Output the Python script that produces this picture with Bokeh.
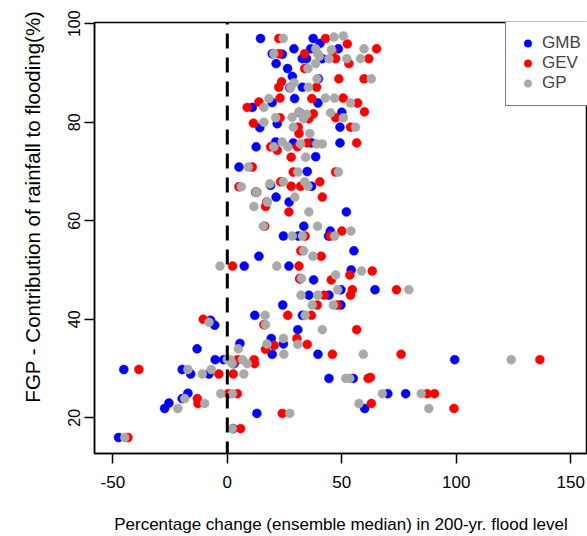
from bokeh.plotting import figure
from bokeh.models import Range1d, FixedTicker, Span, Legend, LegendItem
from bokeh.embed import file_html
from bokeh.resources import INLINE

# ---------------- data ----------------
gmb_x = [14.5, 37.5, 40.5, 19.6, 24.0, 29.1, 36.4, 48.5, 32.7, 34.6, 41.5, 21.3, 26.3, 28.4, 39.8, 27.3, 32.8,
         29.4, 39.6, 19.6, 10.9, 31.5, 50.0, 14.2, 21.8, 49.2, 12.6, 21.1, 28.8, 36.8, 49.2, 38.6, 5.1, 34.9,
         12.4, 18.9, 21.3, 27.0, 36.8, 24.5, 13.8, 7.4, 26.9, 52.0, 33.4, 45.0, 31.0, 44.2, 55.3, 54.1,
         31.7, 37.7, 49.6, 64.5, 35.6, 44.4, 24.2, 49.6, 12.0, 32.8, -7.3, -5.5, 30.8, 19.2, 24.5, 5.5, -13.2,
         19.6, 39.6, -5.3, -1.6, 2.9, 99.3, -45.2, -19.7, -16.0, -8.0, 44.4, 55.0, -17.2, -19.7, -25.5, -27.4,
         70.1, 77.9, 60.0, 12.9, 2.6, -47.5]
gmb_y = [97, 97, 96, 93.9, 93.8, 94.9, 94.9, 94.9, 92.9, 92.9, 92.9, 91.9, 90.9, 89.3, 88.8, 87, 87.1,
         84.8, 83.9, 84, 83, 82, 82, 78.9, 79.7, 79, 75, 76, 75.8, 75.8, 75.8, 73, 70.9, 70,
         65.8, 67.2, 64.8, 63.8, 67, 56.9, 52.8, 50.8, 50.8, 61.8, 58.9, 57.9, 56.9, 56.9, 53.9, 50,
         48.2, 48, 46, 46, 44.9, 44.9, 42.9, 42.9, 40.8, 40.8, 39.8, 38.8, 37.9, 36.1, 35, 35.1, 34,
         32.9, 32.9, 31.8, 31.8, 31, 31.8, 29.8, 29.8, 28.9, 28.9, 28, 28, 25, 23.9, 23, 21.9,
         24.9, 24.9, 21.9, 20.9, 17.8, 16]

gev_x = [22.5, 42.9, 52.4, 22.5, 33.8, 46.0, 65.2, 47.3, 53.1, 61.8, 33.8, 23.7, 22.5, 48.7, 59.7, 39.0,
         23.0, 13.8, 8.7, 36.9, 50.6, 56.9, 37.6, 35.6, 47.3, 59.9, 11.4, 23.0, 31.0, 53.8, 31.3, 18.9,
         21.8, 30.6, 34.9, 56.5, 27.9, 10.9, 28.8, 47.3,
         5.1, 12.8, 23.3, 27.9, 32.0, 40.4, 17.2, 16.7, 41.5, 26.9, 16.3, 50.0, 34.0, 45.0, 32.1, 41.0,
         2.3, 31.3, 63.3,
         31.7, 45.4, 53.5, 54.6, 53.8, 73.9, 42.3, 39.3, 48.0, 26.4, 36.7, -10.5, 16.0, 56.5, 20.5, 30.4,
         34.9, 16.7, 45.9, 75.9, 4.5, 11.7, 11.9, 136.5, -38.6, -3.7, 2.6, 61.5, 62.5, 0.4, 4.4, -13.1,
         -12.8, 87.3, 90.5, 62.9, 99.0, 24.0, 5.8, -43.4]
gev_y = [97, 97, 95.9, 93.9, 93.9, 94.5, 94.9, 92.9, 91.9, 92.9, 90.9, 88.2, 87.1, 88.8, 88.8, 87.1,
         84.9, 84.1, 83, 84.8, 84.9, 83.9, 81.7, 80.7, 80.9, 82.1, 79.8, 80.9, 79, 79, 77.7, 75,
         74.3, 75, 75.8, 75.8, 72.9, 70.9, 69.9, 69.9,
         66.9, 65.8, 67.9, 67, 67, 67.9, 63.8, 62.9, 64.8, 61.8, 58.9, 57.9, 56.9, 56.9, 53.9, 52.8,
         50.8, 50.8, 49.8,
         48.3, 48, 49, 46, 44.9, 46, 44.9, 42.9, 42.9, 40.8, 40.8, 40, 38.9, 37.9, 34.7, 36.1,
         34.9, 33.9, 32.9, 32.9, 31.8, 31.8, 31, 31.8, 29.8, 28.9, 28.9, 28, 28.2, 24.9, 24.9, 23.9,
         22.9, 24.9, 24.9, 22.9, 21.9, 20.9, 17.8, 16]

gp_x = [24.4, 46.6, 50.7, 20.3, 38.6, 39.5, 40.2, 45.5, 59.7, 44.4, 52.2, 58.2, 35.2, 38.6, 39.2, 62.9,
        29.1, 27.6, 35.4, 18.2, 16.0, 42.8, 46.8, 53.8, 31.3, 34.6, 33.2, 45.1, 50.7, 16.0, 21.1, 28.3,
        28.8, 36.0, 56.0, 20.3, 24.0, 26.5, 32.0, 39.0, 41.5, 34.2, 9.2, 30.8, 48.5,
        6.1, 12.6, 18.6, 24.5, 33.8, 35.2, 17.5, 11.6, 29.5, 35.6, 15.7, 39.4, 54.0, 28.4, 32.8, 46.9,
        33.3, 37.4, -3.2, 21.6, 58.6,
        32.4, 47.3, 48.2, 79.3, 32.2, 39.5, 37.1, 46.3, 16.5, 34.0, -8.0, 16.7, 41.5, 24.5, 17.3, 30.8,
        4.8, 24.7, 59.4, 0.0, 1.4, 2.2, 6.6, 8.7, 124.0, -17.2, -10.9, -7.0, 7.2, 51.7, 53.5, -2.9, 2.2,
        -18.6, -9.9, -21.6, 67.7, 84.7, 57.5, 88.0, 27.3, 2.2, -44.8]
gp_y = [97, 97.3, 97.5, 93.9, 94.9, 93.9, 93.4, 94.7, 94.9, 92.9, 92.9, 92.9, 90.9, 91.9, 88.8, 88.8,
        88, 87, 87.1, 84.8, 83, 84.9, 84.9, 83.9, 82.1, 81.6, 80.7, 81.9, 80.9, 80, 80.9, 81,
        79, 77.7, 79, 75, 76, 75, 75.6, 75.6, 75.6, 72.9, 70.9, 69.9, 69.9,
        66.9, 65.8, 67.5, 67.9, 67.9, 67, 63.8, 62.9, 64.8, 61.8, 58.9, 58.9, 57.9, 56.9, 56.9, 56.9,
        53.9, 52.8, 50.8, 50.8, 49.8,
        48.3, 49, 46, 46, 44.9, 44.9, 42.9, 42.9, 40.8, 40.8, 39.4, 38.9, 37.9, 36.1, 35, 34.9,
        34, 32.9, 32.9, 31.8, 31.8, 31, 31.8, 31, 31.8, 29.8, 28.9, 29.8, 28.9, 28, 28, 24.9, 24.9,
        23.9, 22.9, 21.9, 24.9, 24.9, 22.9, 21.9, 20.9, 17.8, 16]

series_names = ["GMB", "GEV", "GP"]
series_colors = ["#0000FF", "#FF0000", "#A9A9A9"]
x_ticks = [-50, 0, 50, 100, 150]
y_ticks = [20, 40, 60, 80, 100]
x_title = "Percentage change (ensemble median) in 200-yr. flood level"
y_title = "FGP - Contribution of rainfall to flooding(%)"

FONT = "Liberation Sans"

p = figure(width=587, height=536, output_backend="svg", toolbar_location=None,
           x_range=Range1d(-58, 157.3), y_range=Range1d(12.76, 100.24),
           min_border_left=94, min_border_right=0, min_border_top=22, min_border_bottom=82)
p.xgrid.visible = False
p.ygrid.visible = False
p.outline_line_color = "black"
p.outline_line_width = 1.5
p.background_fill_color = "white"
p.border_fill_color = "white"

for ax in (p.xaxis, p.yaxis):
    ax.axis_line_color = "black"
    ax.axis_line_width = 1.5
    ax.major_tick_line_color = "black"
    ax.major_tick_line_width = 1.5
    ax.major_tick_out = 10
    ax.major_tick_in = 0
    ax.minor_tick_line_color = None
    ax.major_label_text_font = FONT
    ax.major_label_text_color = "black"
    ax.axis_label_text_font = FONT
    ax.axis_label_text_font_style = "normal"
    ax.axis_label_text_color = "black"

p.xaxis.ticker = FixedTicker(ticks=x_ticks)
p.yaxis.ticker = FixedTicker(ticks=y_ticks)
p.xaxis.major_label_overrides = {t: str(t) for t in x_ticks}
p.yaxis.major_label_overrides = {t: str(t) for t in y_ticks}
p.xaxis.major_label_text_font_size = "17px"
p.yaxis.major_label_text_font_size = "16px"
p.xaxis.major_label_standoff = 12
p.yaxis.major_label_standoff = 4
p.yaxis.major_label_orientation = "vertical"

p.xaxis.axis_label = x_title
p.xaxis.axis_label_text_font_size = "17px"
p.xaxis.axis_label_standoff = 24

# y title sits above the centre of the frame in the original
p.yaxis.axis_label = "\u00a0" * 11 + y_title
p.yaxis.axis_label_text_font_size = "20.5px"
p.yaxis.axis_label_standoff = 22

# dashed reference line at 0
p.add_layout(Span(location=0, dimension="height", line_color="black",
                  line_width=3, line_dash="15 9", line_dash_offset=13))

renderers = []
for xs, ys, c in [(gmb_x, gmb_y, series_colors[0]),
                  (gev_x, gev_y, series_colors[1]),
                  (gp_x, gp_y, series_colors[2])]:
    r = p.scatter(xs, ys, size=9, fill_color=c, line_color=c, line_width=0.5)
    renderers.append(r)

legend = Legend(items=[LegendItem(label=n, renderers=[r]) for n, r in zip(series_names, renderers)],
                location=(411, 347), margin=0, padding=12, spacing=0,
                glyph_width=19, glyph_height=20, label_height=20, label_standoff=5,
                border_line_color="black", border_line_width=1.5,
                background_fill_color="white", background_fill_alpha=1.0,
                label_text_font=FONT, label_text_font_size="17px")
p.add_layout(legend)

open("out.html", "w").write(file_html(p, INLINE))
